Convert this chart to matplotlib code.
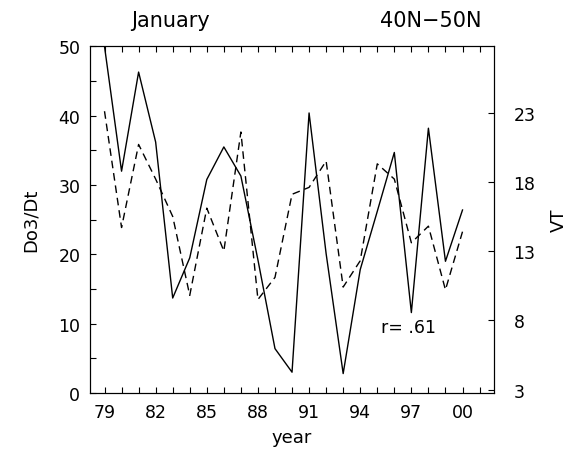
import matplotlib
matplotlib.use('Agg')
import matplotlib.pyplot as plt
from matplotlib.ticker import MultipleLocator, FixedLocator, FuncFormatter

# January, 40N-50N: ozone tendency vs. eddy heat flux
years = list(range(1979, 2001))
do3dt = [50.0, 32.0, 46.3, 36.2, 13.7, 19.5, 30.8, 35.5, 31.3, 19.2, 6.4,
         3.0, 40.4, 20.1, 2.8, 17.8, 26.2, 34.7, 11.6, 38.2, 19.0, 26.4]
vt = [23.1, 14.7, 20.7, 18.2, 15.5, 9.8, 16.1, 13.0, 21.6, 9.5, 11.1,
      17.1, 17.6, 19.5, 10.4, 12.3, 19.3, 18.2, 13.6, 14.8, 10.2, 14.4]
vt_ticks = [3, 8, 13, 18, 23]
year_ticks = [1979, 1982, 1985, 1988, 1991, 1994, 1997, 2000]

fs = 12.5
fig = plt.figure(figsize=(5.73, 4.56), dpi=100)
ax = fig.add_axes([0.1571, 0.136, 0.7051, 0.760])
ax.plot(years, do3dt, color='black', lw=1.0)
ax.set_xlim(1978.15, 2001.85)
ax.set_ylim(0, 50)

ax.xaxis.set_major_locator(FixedLocator(year_ticks))
ax.xaxis.set_minor_locator(MultipleLocator(1))
ax.xaxis.set_major_formatter(FuncFormatter(lambda v, p: '%02d' % (int(round(v)) % 100)))
ax.yaxis.set_major_locator(MultipleLocator(10))
ax.yaxis.set_minor_locator(MultipleLocator(5))
ax.tick_params(which='both', direction='in', top=True, right=False,
               length=4, width=0.8, labelsize=fs, pad=7)
ax.set_xlabel('year', fontsize=13, labelpad=5)
ax.set_ylabel('Do3/Dt', fontsize=13, labelpad=13)

ax2 = ax.twinx()
ax2.plot(years, vt, color='black', lw=1.0, linestyle=(0, (5.5, 3.5)))
ax2.set_ylim(2.75, 27.78)
ax2.yaxis.set_major_locator(FixedLocator(vt_ticks))
ax2.tick_params(which='both', direction='in', length=4, width=0.8,
                labelsize=fs, pad=14)
ax2.set_ylabel('VT', fontsize=13, labelpad=10)

for a in (ax, ax2):
    for s in a.spines.values():
        s.set_linewidth(0.8)

ax.text(1995.2, 9.45, 'r= .61', fontsize=fs, va='center', ha='left')
fig.text(0.297, 0.955, 'January', fontsize=15, ha='center', va='center')
fig.text(0.752, 0.955, '40N\u221250N', fontsize=15, ha='center', va='center')

fig.savefig('out.png', dpi=100)
